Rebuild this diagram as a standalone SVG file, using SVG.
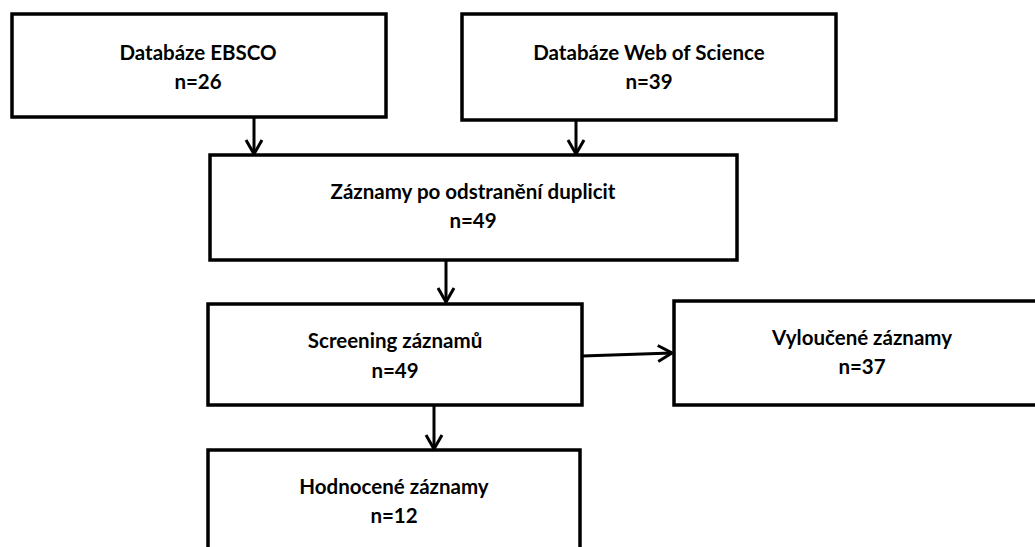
<svg xmlns="http://www.w3.org/2000/svg" width="1035" height="547" viewBox="0 0 1035 547">
<defs>
<style>
.box{fill:#fff;stroke:#000;stroke-width:3.5}
.t{font-family:Lato,"Open Sans","Liberation Sans",sans-serif;font-weight:bold;font-size:20.5px;fill:#000;text-anchor:middle}
.c{stroke:#000;stroke-width:3;fill:none}
</style>
<marker id="arr" viewBox="0 0 20 20" refX="18" refY="10" markerWidth="20" markerHeight="20" markerUnits="userSpaceOnUse" orient="auto">
<polyline points="4,2 18,10 4,18" fill="none" stroke="#000" stroke-width="3"/>
</marker>
</defs>
<rect width="1035" height="547" fill="#fff"/>
<g id="connectors">
<line class="c" x1="254" y1="117" x2="254" y2="154" marker-end="url(#arr)"/>
<line class="c" x1="576" y1="120" x2="576" y2="154" marker-end="url(#arr)"/>
<line class="c" x1="446" y1="260" x2="446" y2="302" marker-end="url(#arr)"/>
<line class="c" x1="582" y1="356" x2="672" y2="353" marker-end="url(#arr)"/>
<line class="c" x1="434" y1="405" x2="434" y2="449" marker-end="url(#arr)"/>
</g>
<g id="ebsco">
<rect class="box" x="12" y="14" width="374" height="103"/>
<text class="t" x="198" y="60">Databáze EBSCO</text>
<text class="t" x="198" y="89">n=26</text>
</g>
<g id="wos">
<rect class="box" x="462" y="14" width="374" height="106"/>
<text class="t" x="649" y="60">Databáze Web of Science</text>
<text class="t" x="649" y="89">n=39</text>
</g>
<g id="dedup">
<rect class="box" x="210" y="155" width="527" height="105"/>
<text class="t" x="473" y="199">Záznamy po odstranění duplicit</text>
<text class="t" x="473" y="228">n=49</text>
</g>
<g id="screening">
<rect class="box" x="208" y="304" width="374" height="101"/>
<text class="t" x="395" y="348">Screening záznamů</text>
<text class="t" x="395" y="378">n=49</text>
</g>
<g id="excluded">
<rect class="box" x="674" y="301" width="370" height="104"/>
<text class="t" x="862" y="345">Vyloučené záznamy</text>
<text class="t" x="862" y="374">n=37</text>
</g>
<g id="assessed">
<rect class="box" x="208" y="450" width="372" height="110"/>
<text class="t" x="394" y="494">Hodnocené záznamy</text>
<text class="t" x="394" y="523">n=12</text>
</g>
</svg>
